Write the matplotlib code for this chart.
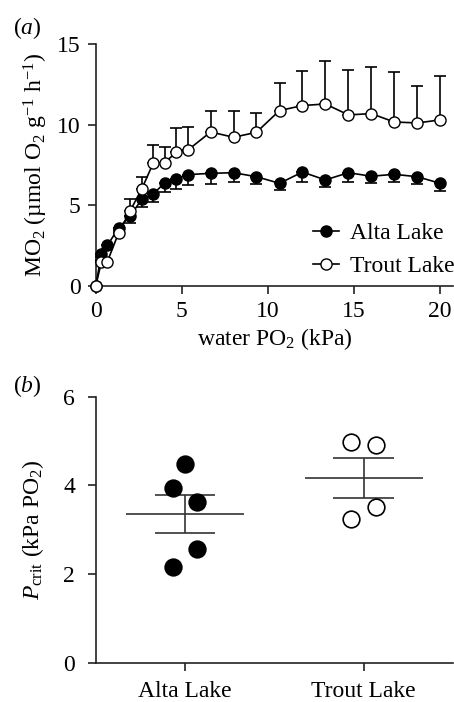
import matplotlib
matplotlib.use("Agg")
import matplotlib.pyplot as plt
from matplotlib.lines import Line2D
import numpy as np

plt.rcParams['font.family'] = ['Liberation Serif', 'DejaVu Serif']
plt.rcParams['mathtext.fontset'] = 'custom'
plt.rcParams['mathtext.rm'] = 'Liberation Serif'
plt.rcParams['mathtext.it'] = 'Liberation Serif:italic'
plt.rcParams['font.size'] = 17

# (a) MO2 vs water PO2
po2 = [0, 0.33, 0.67, 1.33, 2.0, 2.67, 3.33, 4.0, 4.67, 5.33, 6.67, 8.0,
       9.33, 10.67, 12.0, 13.33, 14.67, 16.0, 17.33, 18.67, 20.0]
alta_mo2 = [0, 2.0, 2.5, 3.6, 4.33, 5.37, 5.68, 6.4, 6.63, 6.9, 6.98, 7.02,
            6.77, 6.36, 7.06, 6.57, 7.02, 6.8, 6.92, 6.77, 6.36]
alta_err = [0, 0.2, 0.2, 0.25, 0.41, 0.5, 0.48, 0.58, 0.65, 0.66, 0.64, 0.6,
            0.43, 0.4, 0.64, 0.42, 0.6, 0.43, 0.45, 0.43, 0.48]
trout_mo2 = [0, 1.49, 1.49, 3.29, 4.66, 6.01, 7.6, 7.64, 8.29, 8.41, 9.55, 9.22,
             9.53, 10.88, 11.19, 11.29, 10.61, 10.69, 10.17, 10.11, 10.3]
trout_err = [0, 0.1, 0.1, 0.2, 0.71, 0.76, 1.16, 0.98, 1.49, 1.45, 1.33, 1.61,
             1.22, 1.69, 2.17, 2.67, 2.77, 2.9, 3.09, 2.32, 2.71]

# (b) Pcrit per fish
alta_pcrit = [4.48, 3.95, 3.62, 2.57, 2.15]
alta_jit = [0, -0.069, 0.069, 0.069, -0.069]
trout_pcrit = [4.97, 4.90, 3.51, 3.25]
trout_jit = [-0.069, 0.069, 0.069, -0.069]
groups = ['Alta Lake', 'Trout Lake']

fig = plt.figure(figsize=(4.54, 7.02), dpi=100)
ax1 = fig.add_axes([0.211, 0.593, 0.787, 0.344])
ax2 = fig.add_axes([0.211, 0.056, 0.787, 0.379])

zeros = np.zeros(len(po2))
ax1.errorbar(po2, alta_mo2, yerr=[alta_err, zeros], fmt='-o', color='black',
             mfc='black', mec='black', ms=8, lw=1.2, elinewidth=1.2,
             capsize=4, capthick=1.2, clip_on=False, zorder=3)
ax1.errorbar(po2, trout_mo2, yerr=[zeros, trout_err], fmt='-o', color='black',
             mfc='white', mec='black', ms=8, lw=1.2, elinewidth=1.2,
             capsize=4, capthick=1.2, clip_on=False, zorder=4)
ax1.set_xlim(0, 20.75)
ax1.set_ylim(0, 15)
ax1.set_xticks([0, 5, 10, 15, 20])
ax1.set_yticks([0, 5, 10, 15])
ax1.set_xlabel('water PO$_2$ (kPa)', labelpad=3)
ax1.set_ylabel('MO$_2$ (µmol O$_2$ g$^{-1}$ h$^{-1}$)', labelpad=5)
handles = [Line2D([], [], color='black', marker='o', ms=8, mfc='black', lw=1.2),
           Line2D([], [], color='black', marker='o', ms=8, mfc='white', lw=1.2)]
ax1.legend(handles, groups, loc='lower right', frameon=False, handlelength=1.1,
           handletextpad=0.45, borderaxespad=0.0, labelspacing=0.5,
           bbox_to_anchor=(1.03, -0.005))
fig.text(0.028, 0.952, r'($\it{a}$)', fontsize=17)

# (b)
for i, (vals, jit) in enumerate([(alta_pcrit, alta_jit), (trout_pcrit, trout_jit)]):
    fc = 'black' if i == 0 else 'white'
    ax2.plot(np.array(jit) + i, vals, 'o', ms=12, mfc=fc, mec='black', mew=1.2, zorder=3)
    m = np.mean(vals)
    sem = np.std(vals, ddof=1) / np.sqrt(len(vals))
    ax2.hlines(m, i - 0.33, i + 0.33, color='#333333', lw=1.2, zorder=2)
    ax2.hlines([m - sem, m + sem], i - 0.17, i + 0.17, color='#333333', lw=1.2, zorder=2)
    ax2.vlines(i, m - sem, m + sem, color='#333333', lw=1.2, zorder=2)
ax2.set_xlim(-0.5, 1.5)
ax2.set_ylim(0, 6)
ax2.set_yticks([0, 2, 4, 6])
ax2.set_xticks([0, 1])
ax2.set_xticklabels(groups)
ax2.set_ylabel(r'$P_{\rm crit}$ (kPa PO$_2$)', labelpad=12)
fig.text(0.028, 0.442, r'($\it{b}$)', fontsize=17)

for ax in (ax1, ax2):
    for s in ('top', 'right'):
        ax.spines[s].set_visible(False)
    for s in ('left', 'bottom'):
        ax.spines[s].set_linewidth(1.2)
        ax.spines[s].set_color('#222222')
    ax.tick_params(direction='out', length=6, width=1.2, color='#222222', pad=5)
ax2.tick_params(axis='y', pad=9)
ax2.tick_params(axis='x', pad=7)

fig.savefig('out.png', dpi=100)
